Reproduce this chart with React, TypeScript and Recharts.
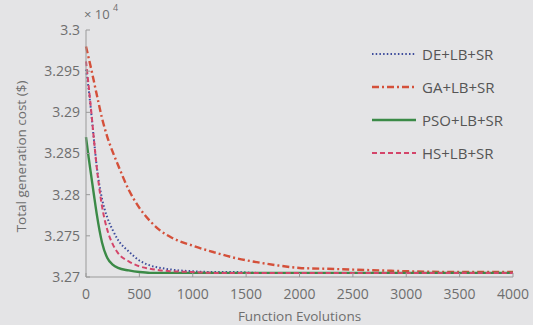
import { LineChart, Line, XAxis, YAxis } from 'recharts'

// function evaluations (x) and the best cost found so far (x 10^4 $)
const evals = [0, 25, 50, 75, 100, 150, 200, 250, 300, 400, 500, 600, 700, 800, 1000, 1200, 1400, 1600, 1800, 2000, 2250, 2500, 2750, 3000, 3500, 4000]
const deCost = [3.2952, 3.2928, 3.2898, 3.2866, 3.2835, 3.2795, 3.2772, 3.2757, 3.2745, 3.2731, 3.272, 3.2714, 3.2711, 3.2709, 3.2707, 3.2706, 3.2706, 3.2705, 3.2705, 3.2705, 3.2705, 3.2705, 3.2705, 3.2705, 3.2705, 3.2705]
const gaCost = [3.298, 3.2966, 3.2952, 3.2937, 3.2922, 3.2893, 3.287, 3.2852, 3.2836, 3.2806, 3.2784, 3.2768, 3.2756, 3.2748, 3.2738, 3.273, 3.2723, 3.2718, 3.2714, 3.2711, 3.271, 3.2709, 3.2708, 3.2707, 3.2706, 3.2706]
const psoCost = [3.287, 3.2845, 3.2822, 3.2799, 3.2777, 3.2742, 3.2723, 3.2715, 3.2711, 3.2708, 3.2706, 3.2705, 3.2705, 3.2705, 3.2705, 3.2705, 3.2705, 3.2705, 3.2705, 3.2705, 3.2705, 3.2705, 3.2705, 3.2705, 3.2705, 3.2705]
const hsCost = [3.2962, 3.2932, 3.29, 3.2866, 3.2834, 3.2786, 3.2757, 3.274, 3.2729, 3.2719, 3.2713, 3.271, 3.2708, 3.2707, 3.2706, 3.2705, 3.2705, 3.2705, 3.2705, 3.2705, 3.2705, 3.2705, 3.2705, 3.2705, 3.2705, 3.2705]

const xTicks = [0, 500, 1000, 1500, 2000, 2500, 3000, 3500, 4000]
const yTicks = [3.27, 3.275, 3.28, 3.285, 3.29, 3.295, 3.3]
const yTickLabels = ['3.27', '3.275', '3.28', '3.285', '3.29', '3.295', '3.3']

const FONT = '"Open Sans", "DejaVu Sans", sans-serif'

const series = [
    { key: 'de', name: 'DE+LB+SR', color: '#3d4c9c', dash: '1.5 2.2', width: 2 },
    { key: 'ga', name: 'GA+LB+SR', color: '#d4503a', dash: '7 3 2 3', width: 2.4 },
    { key: 'pso', name: 'PSO+LB+SR', color: '#3b8a47', dash: undefined, width: 2.4 },
    { key: 'hs', name: 'HS+LB+SR', color: '#d4456a', dash: '5 3', width: 2 },
]

const chartData = evals.map((fe, i) => ({
    fe,
    de: deCost[i],
    ga: gaCost[i],
    pso: psoCost[i],
    hs: hsCost[i],
}))

// legend drawn as an overlay so it does not eat into the plot area
const LegendBox = () => (
    <div style={{ position: 'absolute', left: 372, top: 37, fontFamily: FONT, fontSize: 15, color: '#555' }}>
        {series.map(s => (
            <div key={s.key} style={{ display: 'flex', alignItems: 'center', height: 33 }}>
                <svg width={46} height={6} style={{ marginRight: 4 }}>
                    <line x1={0} y1={3} x2={44} y2={3} stroke={s.color} strokeWidth={s.width} strokeDasharray={s.dash} />
                </svg>
                <span>{s.name}</span>
            </div>
        ))}
    </div>
)

export default function App() {
    return (
        <div style={{ position: 'absolute', left: 0, top: 0, width: 533, height: 325, background: '#e4e4e6' }}>
            <LineChart width={533} height={325} data={chartData} margin={{ top: 30, right: 20, bottom: 3, left: 0 }}>
                <XAxis
                    dataKey="fe"
                    type="number"
                    domain={[0, 4000]}
                    ticks={xTicks}
                    interval={0}
                    height={45}
                    tickSize={-4}
                    tickMargin={16}
                    stroke="#9a9a9a"
                    tick={{ fill: '#6e6e6e', fontSize: 14, fontFamily: FONT }}
                    label={({ viewBox }: any) => (
                        <text x={viewBox.x + viewBox.width / 2} y={321} textAnchor="middle" fill="#6e6e6e" fontSize={13.5} fontFamily={FONT}>
                            Function Evolutions
                        </text>
                    )}
                />
                <YAxis
                    type="number"
                    domain={[3.27, 3.3]}
                    ticks={yTicks}
                    interval={0}
                    width={86}
                    tickSize={-4}
                    tickMargin={10}
                    stroke="#9a9a9a"
                    tickFormatter={(v: number) => yTickLabels[yTicks.findIndex(t => Math.abs(t - v) < 1e-6)] ?? String(v)}
                    tick={{ fill: '#6e6e6e', fontSize: 14, fontFamily: FONT }}
                    label={({ viewBox }: any) => {
                        const cy = viewBox.y + viewBox.height / 2 + 3
                        return (
                            <g>
                                <text x={26} y={cy} transform={`rotate(-90, 26, ${cy})`} textAnchor="middle" fill="#6e6e6e" fontSize={13.5} fontFamily={FONT}>
                                    Total generation cost ($)
                                </text>
                                <text x={84} y={19} fill="#6e6e6e" fontSize={13} fontFamily={FONT}>× 10</text>
                                <text x={113} y={11} fill="#6e6e6e" fontSize={9} fontFamily={FONT}>4</text>
                            </g>
                        )
                    }}
                />
                {series.map(s => (
                    <Line
                        key={s.key}
                        dataKey={s.key}
                        name={s.name}
                        type="monotone"
                        stroke={s.color}
                        strokeWidth={s.width}
                        strokeDasharray={s.dash}
                        dot={false}
                        isAnimationActive={false}
                    />
                ))}
            </LineChart>
            <LegendBox />
        </div>
    )
}
